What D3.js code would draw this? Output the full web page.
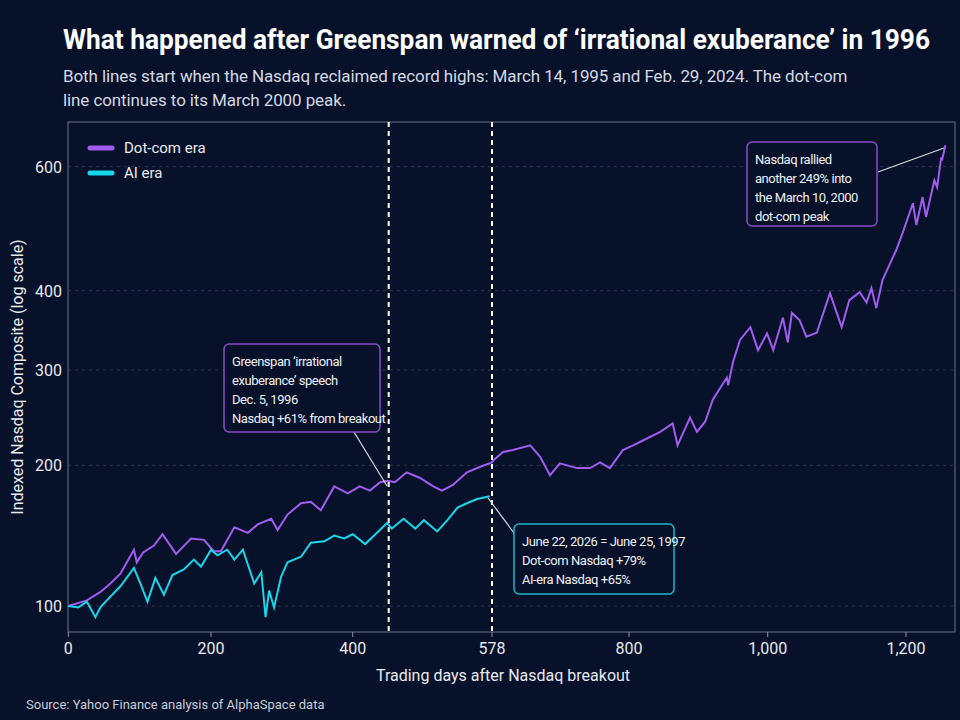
<!DOCTYPE html>
<html><head><meta charset="utf-8">
<script src="https://cdn.jsdelivr.net/npm/d3@7"></script>
<style>
body{margin:0;background:#07112a;}
text{font-family:Roboto,sans-serif;}
</style></head><body>
<svg id="c" width="960" height="720"></svg>
<script>
const dotcomDays=[0,26,45,59,73,92,96,105,120,132,151,172,190,204,214,233,252,266,285,294,308,327,341,355,374,393,409,422,435,445,454,469,486,503,514,528,546,563,578,580,596,612,640,656,672,688,716,737,753,769,790,806,820,845,863,870,888,898,910,921,941,943,950,960,975,986,999,1008,1022,1029,1035,1046,1056,1071,1090,1107,1118,1133,1143,1150,1157,1166,1186,1195,1210,1215,1224,1229,1241,1245,1251,1252,1257];
const dotcomValues=[100,104,110,116,123,140,131,138,143,151,137,148,147,139,139,156,152,158,162,154,165,173,174,168,185,180,185,182,188,189,188,195,191,185,182,186,195,199,203,205,214,216,221,209,193,202,198,198,203,198,216,221,226,235,244,221,250,235,246,269,292,284,310,338,354,325,346,325,366,335,372,363,342,347,397,354,388,398,385,404,378,417,466,493,541,506,551,519,578,567,615,610,635];
const aiDays=[0,14,26,38,45,54,73,92,101,111,122,134,146,162,176,186,200,209,223,233,245,261,271,277,282,289,299,308,327,341,360,374,388,400,416,431,444,450,465,480,491,508,521,534,546,559,575];
const aiValues=[100,99,103,92,99,104,114,127,116,103,120,108,122,126,133,128,140,136,140,133,140,116,124,92,111,99,121,131,135,145,146,150,148,151,144,152,159,155,162,155,161,153,161,170,173,176,178];
const xTicks=[0,200,400,578,800,1000,1200];
const xTickLabels=["0","200","400","578","800","1,000","1,200"];
const yTicks=[100,200,300,400,600];
const greenspanDay=446, juneDay=578;

const svg=d3.select("#c");
svg.append("rect").attr("width",960).attr("height",720).attr("fill","#07112a");
const x=d3.scaleLinear().domain([0,200,400,578,800,1000,1200,1260]).range([68.3,211,352.7,492,629,767.7,906,947.5]);
const y=d3.scaleLinear().domain([80,100,200,300,400,600,700]).range([634,606,465.3,370,290.7,166.7,105]);
const L=68,R=955,T=122,B=632;
svg.append("rect").attr("x",L).attr("y",T).attr("width",R-L).attr("height",B-T).attr("fill","none").attr("stroke","#5a6478").attr("stroke-width",1.2);
yTicks.forEach(v=>{
  svg.append("line").attr("x1",L).attr("x2",R).attr("y1",y(v)).attr("y2",y(v)).attr("stroke","#2c3850").attr("stroke-dasharray","3,4");
  svg.append("text").attr("x",L-6).attr("y",y(v)+6).attr("text-anchor","end").attr("fill","#e8eaf0").attr("font-size",16).text(v);
});
xTicks.forEach((v,i)=>{
  svg.append("line").attr("x1",x(v)).attr("x2",x(v)).attr("y1",B).attr("y2",B+5).attr("stroke","#8a92a6");
  svg.append("text").attr("x",x(v)).attr("y",B+22).attr("text-anchor","middle").attr("fill","#e8eaf0").attr("font-size",16).text(xTickLabels[i]);
});
[greenspanDay,juneDay].forEach(d=>svg.append("line").attr("x1",x(d)).attr("x2",x(d)).attr("y1",T).attr("y2",B).attr("stroke","#ffffff").attr("stroke-width",2).attr("stroke-dasharray","5,4"));
const line=d3.line().x(d=>x(d[0])).y(d=>y(d[1]));
svg.append("path").datum(dotcomDays.map((d,i)=>[d,dotcomValues[i]])).attr("d",line).attr("fill","none").attr("stroke","#a25cf0").attr("stroke-width",2);
svg.append("path").datum(aiDays.map((d,i)=>[d,aiValues[i]])).attr("d",line).attr("fill","none").attr("stroke","#1ad6ea").attr("stroke-width",2);
[["Dot-com era","#a25cf0",148],["AI era","#1ad6ea",173]].forEach(([t,c,yy])=>{
  svg.append("line").attr("x1",90).attr("x2",112).attr("y1",yy).attr("y2",yy).attr("stroke",c).attr("stroke-width",5).attr("stroke-linecap","round");
  svg.append("text").attr("x",124).attr("y",yy+5).attr("fill","#e8eaf0").attr("font-size",15).text(t);
});
function box(x0,y0,w,h,col,lines){
  svg.append("rect").attr("x",x0).attr("y",y0).attr("width",w).attr("height",h).attr("rx",5).attr("fill","#07112a").attr("stroke",col).attr("stroke-width",1.5);
  lines.forEach((t,i)=>svg.append("text").attr("x",x0+8).attr("y",y0+22+i*19).attr("fill","#eef0f4").attr("font-size",13).attr("letter-spacing","-0.45").text(t));
}
svg.append("line").attr("x1",354).attr("x2",387).attr("y1",432).attr("y2",486).attr("stroke","#d8dce4").attr("stroke-width",1.2);
box(224,344,156,88,"#8a4cc8",["Greenspan ‘irrational","exuberance’ speech","Dec. 5, 1996","Nasdaq +61% from breakout"]);
svg.append("line").attr("x1",514).attr("x2",488).attr("y1",533).attr("y2",498).attr("stroke","#d8dce4").attr("stroke-width",1.2);
box(514,524,160,70,"#1ab8c8",["June 22, 2026 = June 25, 1997","Dot-com Nasdaq +79%","AI-era Nasdaq +65%"]);
svg.append("line").attr("x1",878).attr("x2",944).attr("y1",172).attr("y2",148).attr("stroke","#d8dce4").attr("stroke-width",1.2);
box(747,142,130,84,"#8a4cc8",["Nasdaq rallied","another 249% into","the March 10, 2000","dot-com peak"]);
svg.append("text").attr("x",63).attr("y",49).attr("fill","#ffffff").attr("font-size",27).attr("font-weight","bold").attr("textLength",867).attr("lengthAdjust","spacingAndGlyphs").text("What happened after Greenspan warned of ‘irrational exuberance’ in 1996");
svg.append("text").attr("x",63).attr("y",82).attr("fill","#d4d8e2").attr("font-size",17).attr("letter-spacing","-0.1").text("Both lines start when the Nasdaq reclaimed record highs: March 14, 1995 and Feb. 29, 2024. The dot-com");
svg.append("text").attr("x",63).attr("y",106).attr("fill","#d4d8e2").attr("font-size",17).attr("letter-spacing","-0.1").text("line continues to its March 2000 peak.");
svg.append("text").attr("x",503).attr("y",681).attr("text-anchor","middle").attr("fill","#e8eaf0").attr("font-size",16).text("Trading days after Nasdaq breakout");
svg.append("text").attr("transform","translate(23,377) rotate(-90)").attr("text-anchor","middle").attr("fill","#e8eaf0").attr("font-size",16).text("Indexed Nasdaq Composite (log scale)");
svg.append("text").attr("x",26).attr("y",709).attr("fill","#c8ccd6").attr("font-size",13).text("Source: Yahoo Finance analysis of AlphaSpace data");
</script></body></html>
